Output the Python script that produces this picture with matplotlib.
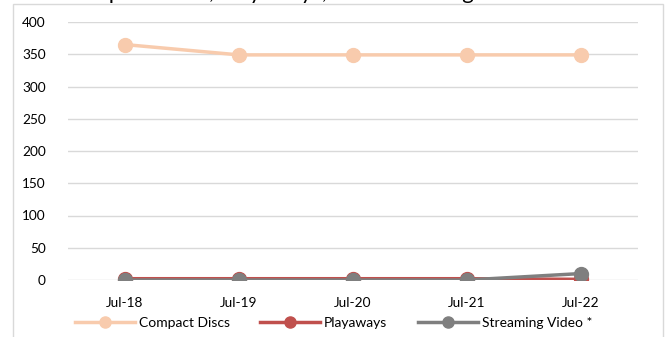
import matplotlib
matplotlib.use("Agg")
import matplotlib.pyplot as plt
from matplotlib.patches import Rectangle

plt.rcParams['font.family'] = ['Lato', 'DejaVu Sans']

categories = ["Jul-18", "Jul-19", "Jul-20", "Jul-21", "Jul-22"]
compact_discs = [365, 349, 349, 349, 349]
playaways = [2, 2, 2, 2, 1]
streaming_video = [0, 0, 0, 0, 10]
yticks = [0, 50, 100, 150, 200, 250, 300, 350, 400]
title = "Compact Discs, Playaways, and Streaming Video"

W, H = 667, 337
fig = plt.figure(figsize=(W / 100, H / 100), dpi=100)
ax = fig.add_axes([68 / W, 1 - 280 / H, (638 - 68) / W, (280 - 22) / H])

x = list(range(len(categories)))
ax.plot(x, compact_discs, color="#F8CBAD", lw=2.5, marker="o", ms=10, label="Compact Discs", zorder=3)
ax.plot(x, playaways, color="#C0504D", lw=2.5, marker="o", ms=10, label="Playaways", zorder=4)
ax.plot(x, streaming_video, color="#7F7F7F", lw=2.5, marker="o", ms=10, label="Streaming Video *", zorder=5)

ax.set_xlim(-0.5, len(categories) - 0.5)
ax.set_ylim(0, 400)
ax.set_yticks(yticks)
ax.set_xticks(x)
ax.set_xticklabels(categories)
ax.yaxis.grid(True, color="#D9D9D9", lw=1)
ax.set_axisbelow(True)
for s in ax.spines.values():
    s.set_visible(False)
ax.tick_params(length=0, labelsize=9.8, colors="#000000")
ax.tick_params(axis="y", pad=16)
ax.tick_params(axis="x", pad=12)

leg = fig.legend(loc="center", bbox_to_anchor=(0.5, 1 - 323 / H), ncol=3, frameon=False,
                 fontsize=10, handlelength=4.3, columnspacing=2.2, handletextpad=0.3,
                 markerscale=0.8)

fig.patches.append(Rectangle((13 / W, -0.01), (663 - 13) / W, 1 - 4 / H + 0.01,
                             transform=fig.transFigure, fill=False, edgecolor="#D9D9D9", lw=1))
fig.text(300 / W, 1 + 0.5 / H, title, ha="center", va="baseline", fontsize=16)

fig.savefig("out.png", dpi=100)
